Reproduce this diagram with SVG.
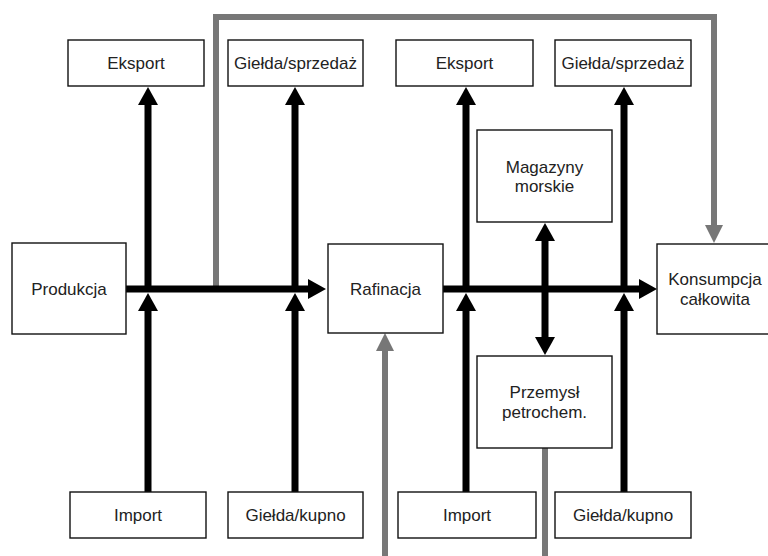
<svg xmlns="http://www.w3.org/2000/svg" width="768" height="556" viewBox="0 0 768 556">
<style>
.box{fill:#fff;stroke:#111;stroke-width:1.4}
.t{font-family:"Liberation Sans",Arial,sans-serif;font-size:17px;fill:#222;text-anchor:middle}
.blk{fill:none;stroke:#000;stroke-width:7}
.gry{fill:none;stroke:#777;stroke-width:6}
</style>
<defs>
<marker id="ab" markerUnits="userSpaceOnUse" markerWidth="18" markerHeight="20" refX="0" refY="10" orient="auto-start-reverse" viewBox="0 0 18 20"><path d="M0,0 L18,10 L0,20 z" fill="#000"/></marker>
<marker id="ag" markerUnits="userSpaceOnUse" markerWidth="18" markerHeight="18" refX="0" refY="9" orient="auto" viewBox="0 0 18 18"><path d="M0,0 L18,9 L0,18 z" fill="#777"/></marker>
</defs>
<rect width="768" height="556" fill="#fff"/>
<g id="connectors">
<path class="gry" d="M216,290 V17 H714 V225" stroke-linejoin="miter" marker-end="url(#ag)"/>
<path class="gry" d="M385,560 V351" marker-end="url(#ag)"/>
<path class="gry" d="M545,448 V560"/>
<path class="blk" d="M126,289 H308" marker-end="url(#ab)"/>
<path class="blk" d="M443,289 H639" marker-end="url(#ab)"/>
<path class="blk" d="M148,492 V311" marker-end="url(#ab)"/>
<path class="blk" d="M148,289 V105" marker-end="url(#ab)"/>
<path class="blk" d="M295,492 V311" marker-end="url(#ab)"/>
<path class="blk" d="M295,289 V105" marker-end="url(#ab)"/>
<path class="blk" d="M466,492 V311" marker-end="url(#ab)"/>
<path class="blk" d="M466,289 V105" marker-end="url(#ab)"/>
<path class="blk" d="M624,492 V311" marker-end="url(#ab)"/>
<path class="blk" d="M624,289 V105" marker-end="url(#ab)"/>
<path class="blk" d="M545,241 V337" marker-start="url(#ab)" marker-end="url(#ab)"/>
</g>
<g id="eksport1"><rect class="box" x="68" y="40" width="136" height="46"/><text class="t" x="136" y="69">Eksport</text></g>
<g id="gielda_sprzedaz1"><rect class="box" x="228" y="40" width="135" height="46"/><text class="t" x="295.5" y="69">Giełda/sprzedaż</text></g>
<g id="eksport2"><rect class="box" x="396" y="40" width="137" height="46"/><text class="t" x="464.5" y="69">Eksport</text></g>
<g id="gielda_sprzedaz2"><rect class="box" x="555" y="40" width="136" height="46"/><text class="t" x="623" y="69">Giełda/sprzedaż</text></g>
<g id="produkcja"><rect class="box" x="12" y="243" width="114" height="91"/><text class="t" x="69" y="295">Produkcja</text></g>
<g id="rafinacja"><rect class="box" x="328" y="244" width="115" height="89"/><text class="t" x="385.5" y="295">Rafinacja</text></g>
<g id="magazyny"><rect class="box" x="477" y="130" width="135" height="92"/><text class="t" x="544.5" y="173">Magazyny</text><text class="t" x="544.5" y="192">morskie</text></g>
<g id="przemysl"><rect class="box" x="477" y="356" width="135" height="92"/><text class="t" x="544.5" y="398">Przemysł</text><text class="t" x="544.5" y="418">petrochem.</text></g>
<g id="konsumpcja"><rect class="box" x="657" y="244" width="115" height="90"/><text class="t" x="715" y="285">Konsumpcja</text><text class="t" x="715" y="305">całkowita</text></g>
<g id="import1"><rect class="box" x="70" y="492" width="136" height="46"/><text class="t" x="138" y="521">Import</text></g>
<g id="gielda_kupno1"><rect class="box" x="228" y="492" width="135" height="46"/><text class="t" x="295.5" y="521">Giełda/kupno</text></g>
<g id="import2"><rect class="box" x="398" y="492" width="138" height="46"/><text class="t" x="467" y="521">Import</text></g>
<g id="gielda_kupno2"><rect class="box" x="555" y="492" width="136" height="46"/><text class="t" x="623" y="521">Giełda/kupno</text></g>
</svg>
